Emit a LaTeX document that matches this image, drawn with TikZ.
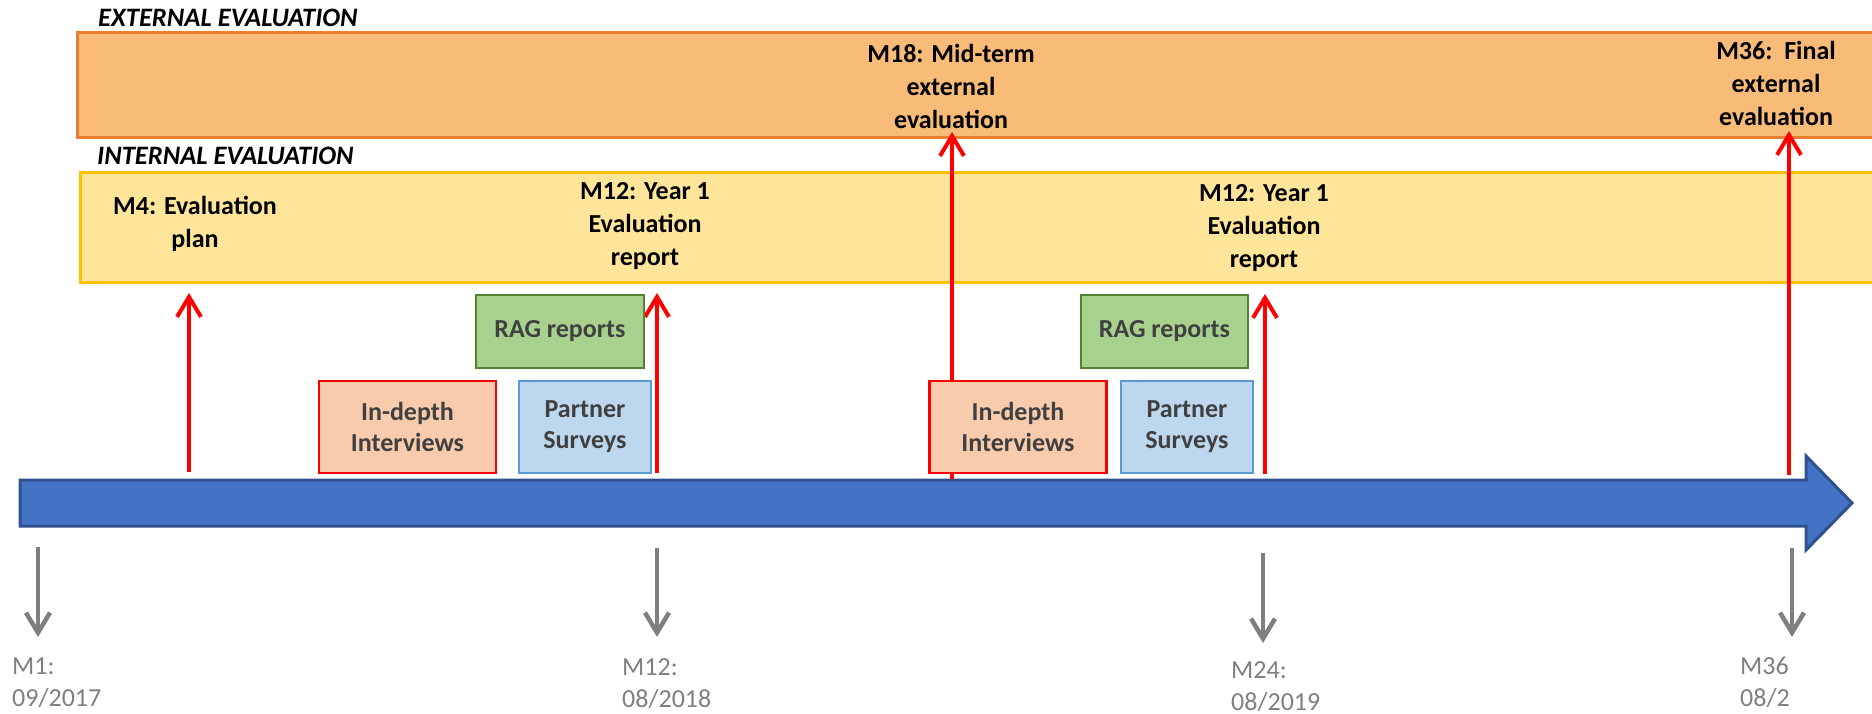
\documentclass[tikz,border=0pt]{standalone}
\usepackage{fontspec}
\setmainfont{Carlito}
\usetikzlibrary{arrows.meta,calc,positioning}

\definecolor{extfill}{HTML}{F9BB78}
\definecolor{extline}{HTML}{ED7D31}
\definecolor{intfill}{HTML}{FFE599}
\definecolor{intline}{HTML}{FFC000}
\definecolor{barfill}{HTML}{4472C4}
\definecolor{barline}{HTML}{2F528F}
\definecolor{ragfill}{HTML}{A9D18E}
\definecolor{ragline}{HTML}{548235}
\definecolor{depthfill}{HTML}{F8CBAD}
\definecolor{partfill}{HTML}{BDD7EE}
\definecolor{partline}{HTML}{5B9BD5}
\definecolor{boxtext}{HTML}{404040}
\definecolor{datetext}{HTML}{7F7F7F}

\begin{document}
\begin{tikzpicture}[x=1pt, y=-1pt,
    band/.style={draw, line width=3pt, inner sep=0pt, outer sep=0pt},
    heading/.style={anchor=base west, inner sep=0pt, font=\fontsize{26.6}{32}\selectfont\bfseries\itshape},
    milestone/.style={align=center, anchor=north, inner sep=0pt, font=\fontsize{26}{33}\selectfont\bfseries},
    activity/.style={draw, line width=2.5pt, align=center, inner sep=0pt, outer sep=0pt, text=boxtext, font=\fontsize{26}{31}\selectfont\bfseries},
    date/.style={align=left, anchor=north west, inner sep=0pt, text=datetext, font=\fontsize{26}{32}\selectfont},
    redarrow/.style={red, line width=4pt, -{Straight Barb[length=20pt,width=24pt]}},
    greyarrow/.style={datetext, line width=4.5pt, -{Straight Barb[length=20pt,width=24pt]}}]

    \path[use as bounding box, clip] (0,0) rectangle (1872,713);

    % evaluation bands
    \node[band, draw=extline, fill=extfill, minimum width=1803pt, minimum height=105pt] (Ext) at (978.5,84.5) {};
    \node[band, draw=intline, fill=intfill, minimum width=1800pt, minimum height=110pt] (Int) at (980,227) {};

    \node[heading] (ExtTitle) at (98,26) {EXTERNAL EVALUATION};
    \node[heading] (IntTitle) at (97,164) {INTERNAL EVALUATION};

    \node[milestone] (M18) at (951,44) {M18: Mid-term\\external\\evaluation};
    \node[milestone] (M36) at (1776,41) {M36:\ \ Final\\external\\evaluation};
    \node[milestone] (M4) at (195,196) {M4: Evaluation\\plan};
    \node[milestone] (M12a) at (645,182) {M12: Year 1\\Evaluation\\report};
    \node[milestone] (M12b) at (1264,184) {M12: Year 1\\Evaluation\\report};

    % timeline
    \draw[barline, fill=barfill, line width=3pt] (20,480) -- (1806,480) -- (1806,456) -- (1852,503)
        -- (1806,550) -- (1806,526) -- (20,526) -- cycle;

    \coordinate (T4) at (189,472);
    \coordinate (T12a) at (657,473);
    \coordinate (T18) at (952,479);
    \coordinate (T12b) at (1265,474);
    \coordinate (T36) at (1789,475);

    \draw[redarrow, shorten >=11pt] (T4) -- (T4 |- Int.south);
    \draw[redarrow, shorten >=11pt] (T12a) -- (T12a |- Int.south);
    \draw[redarrow, shorten >=12pt] (T12b) -- (T12b |- Int.south);
    \draw[redarrow, shorten >=-5pt] (T18) -- (T18 |- Ext.south);
    \draw[redarrow, shorten >=-6pt] (T36) -- (T36 |- Ext.south);

    % activities
    \node[activity, draw=red, fill=depthfill, minimum width=177pt, minimum height=92pt] (Depth1) at (407.5,427) {In-depth\\Interviews};
    \node[activity, draw=partline, fill=partfill, minimum width=132pt, minimum height=92pt] at ($(Depth1)+(177.5,0)$) (Part1) {Partner\\Surveys};
    \node[activity, draw=ragline, fill=ragfill, minimum width=168pt, minimum height=73pt] (Rag1) at (560,331.5) {RAG reports};

    \node[activity, draw=red, fill=depthfill, minimum width=177pt, minimum height=92pt] (Depth2) at (1018,427) {In-depth\\Interviews};
    \node[activity, draw=partline, fill=partfill, minimum width=132pt, minimum height=92pt] at ($(Depth2)+(169,0)$) (Part2) {Partner\\Surveys};
    \node[activity, draw=ragline, fill=ragfill, minimum width=167pt, minimum height=73pt] (Rag2) at (1164.5,331.5) {RAG reports};

    % dates
    \node[date] (D1) at (12,658) {M1:\\09/2017};
    \node[date] (D12) at (622,658) {M12:\\08/2018};
    \node[date] (D24) at (1231,661) {M24:\\08/2019};
    \node[date] (D36) at (1740,657) {M36\\08/2};

    \coordinate (G1) at (38,547);
    \coordinate (G12) at (657,548);
    \coordinate (G24) at (1263,553);
    \coordinate (G36) at (1792,548);

    \foreach \g/\d/\s in {G1/D1/21pt, G12/D12/21pt, G24/D24/18pt, G36/D36/20pt}
        \draw[greyarrow, shorten >=\s] (\g) -- (\g |- \d.north);

\end{tikzpicture}
\end{document}
